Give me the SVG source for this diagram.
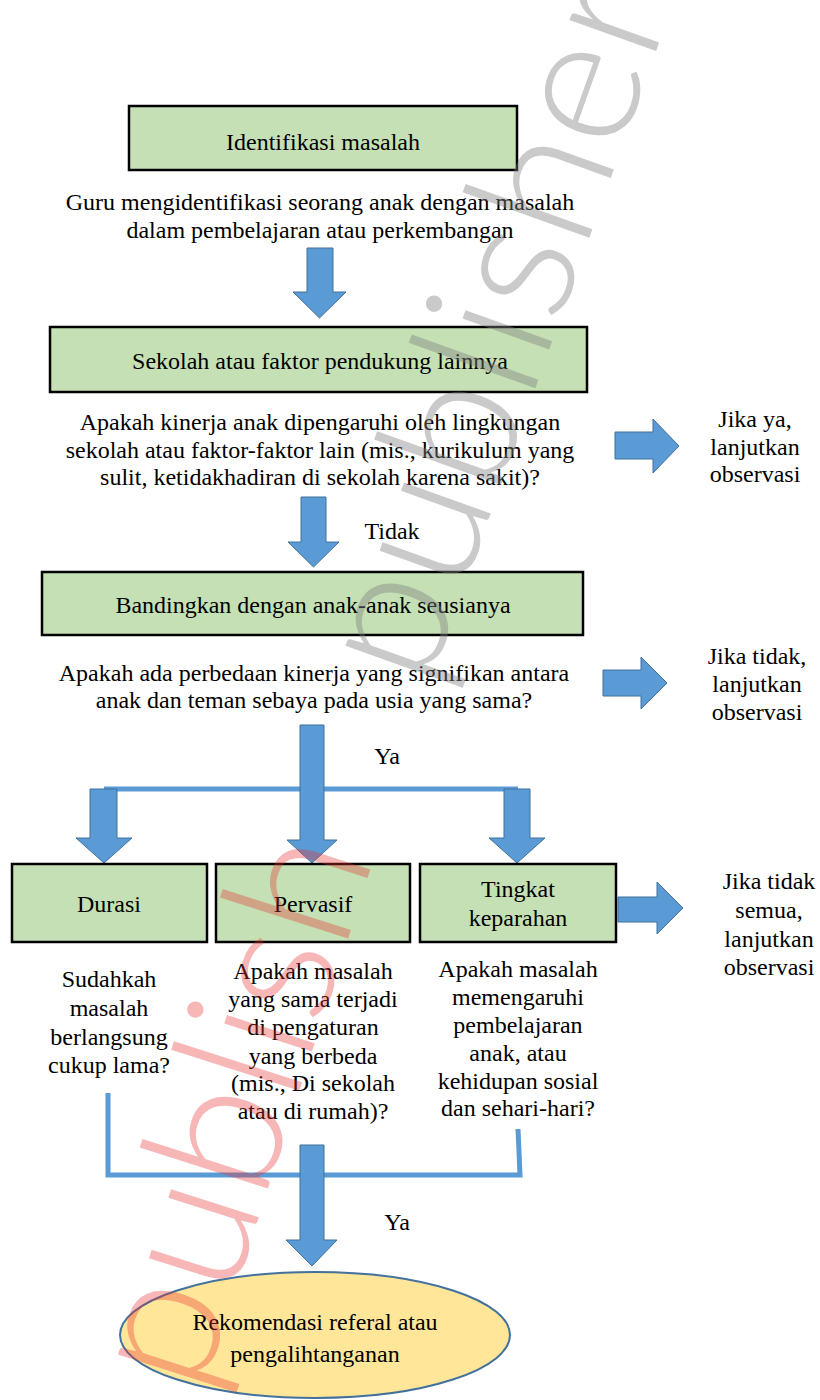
<svg xmlns="http://www.w3.org/2000/svg" width="820" height="1400" viewBox="0 0 820 1400">
<style>
.box{fill:#C5E0B4;stroke:#000;stroke-width:2.5}
.arr{fill:#5B9BD5;stroke:#41719C;stroke-width:1}
.ln{fill:none;stroke:#5B9BD5;stroke-width:5}
text{font-family:"Liberation Serif","Times New Roman",serif;font-size:24px;fill:#000;text-anchor:middle}
text.wm{font-family:"Lato","Roboto","Open Sans",sans-serif;font-weight:300;font-size:185px;text-anchor:start}
text.pk{fill:#E83030;fill-opacity:0.35}
text.gy{fill:#808080;fill-opacity:0.42}
</style>
<rect width="820" height="1400" fill="#fff"/>
<g id="connectors">
<path class="arr" d="M307,248 H333 V292 H346 L319.5,318 L293,292 H307 Z"/>
<path class="arr" d="M615,432 H653 V419 L679,446 L653,473 V459 H615 Z"/>
<path class="arr" d="M301,497 H326 V542 H339 L313.5,567 L288,542 H301 Z"/>
<path class="arr" d="M603,670 H641 V657 L667,683 L641,709 V696 H603 Z"/>
<path class="ln" d="M104,789 H518"/>
<path class="arr" d="M300,725 H324 V840 H337 L312,863 L287,840 H300 Z"/>
<path class="arr" d="M90,789 H117 V838 H132 L104,863 L76,838 H90 Z"/>
<path class="arr" d="M504,789 H530 V838 H545 L517,863 L489,838 H504 Z"/>
<path class="arr" d="M618,897 H657 V882 L683,908 L657,934 V922 H618 Z"/>
<path class="ln" d="M108,1093 V1175 H520 L518,1129"/>
<path class="arr" d="M300,1145 H324 V1240 H337 L312,1266 L286,1240 H300 Z"/>
</g>
<g id="n1"><rect class="box" x="129" y="106" width="388" height="64"/><text x="323" y="150">Identifikasi masalah</text></g>
<g id="t1"><text x="320" y="210">Guru mengidentifikasi seorang anak dengan masalah</text><text x="320" y="238">dalam pembelajaran atau perkembangan</text></g>
<g id="n2"><rect class="box" x="50" y="327" width="537" height="65"/><text x="320" y="369">Sekolah atau faktor pendukung lainnya</text></g>
<g id="t2"><text x="320" y="430">Apakah kinerja anak dipengaruhi oleh lingkungan</text><text x="320" y="458">sekolah atau faktor-faktor lain (mis., kurikulum yang</text><text x="320" y="485">sulit, ketidakhadiran di sekolah karena sakit)?</text></g>
<g id="r1"><text x="755" y="427">Jika ya,</text><text x="755" y="455">lanjutkan</text><text x="755" y="482">observasi</text></g>
<text x="392" y="539">Tidak</text>
<g id="n3"><rect class="box" x="42" y="572" width="541" height="63"/><text x="313" y="613">Bandingkan dengan anak-anak seusianya</text></g>
<g id="t3"><text x="314" y="681">Apakah ada perbedaan kinerja yang signifikan antara</text><text x="314" y="708">anak dan teman sebaya pada usia yang sama?</text></g>
<g id="r2"><text x="757" y="664">Jika tidak,</text><text x="757" y="692">lanjutkan</text><text x="757" y="720">observasi</text></g>
<text x="387" y="764">Ya</text>
<g id="n4"><rect class="box" x="12" y="864" width="195" height="78"/><text x="109" y="912">Durasi</text></g>
<g id="n5"><rect class="box" x="216" y="864" width="194" height="78"/><text x="313" y="912">Pervasif</text></g>
<g id="n6"><rect class="box" x="420" y="864" width="196" height="78"/><text x="518" y="897">Tingkat</text><text x="518" y="926">keparahan</text></g>
<g id="r3"><text x="769" y="889">Jika tidak</text><text x="769" y="918">semua,</text><text x="769" y="947">lanjutkan</text><text x="769" y="975">observasi</text></g>
<g id="c1"><text x="109" y="987">Sudahkah</text><text x="109" y="1016">masalah</text><text x="109" y="1045">berlangsung</text><text x="109" y="1073">cukup lama?</text></g>
<g id="c2"><text x="313" y="979">Apakah masalah</text><text x="313" y="1007">yang sama terjadi</text><text x="313" y="1035">di pengaturan</text><text x="313" y="1064">yang berbeda</text><text x="313" y="1091">(mis., Di sekolah</text><text x="313" y="1119">atau di rumah)?</text></g>
<g id="c3"><text x="518" y="977">Apakah masalah</text><text x="518" y="1005">memengaruhi</text><text x="518" y="1033">pembelajaran</text><text x="518" y="1061">anak, atau</text><text x="518" y="1089">kehidupan sosial</text><text x="518" y="1116">dan sehari-hari?</text></g>
<text x="397" y="1230">Ya</text>
<g id="n7"><ellipse cx="315" cy="1335" rx="195" ry="63" fill="#FFE699" stroke="#41719C" stroke-width="2"/><text x="315" y="1330">Rekomendasi referal atau</text><text x="315" y="1362">pengalihtanganan</text></g>
<g id="watermark">
<text class="wm pk" transform="translate(201,1397) rotate(-72.2)">publish</text>
<text class="wm gy" transform="translate(427,691) rotate(-70.3)">publisher</text>
</g>
</svg>
